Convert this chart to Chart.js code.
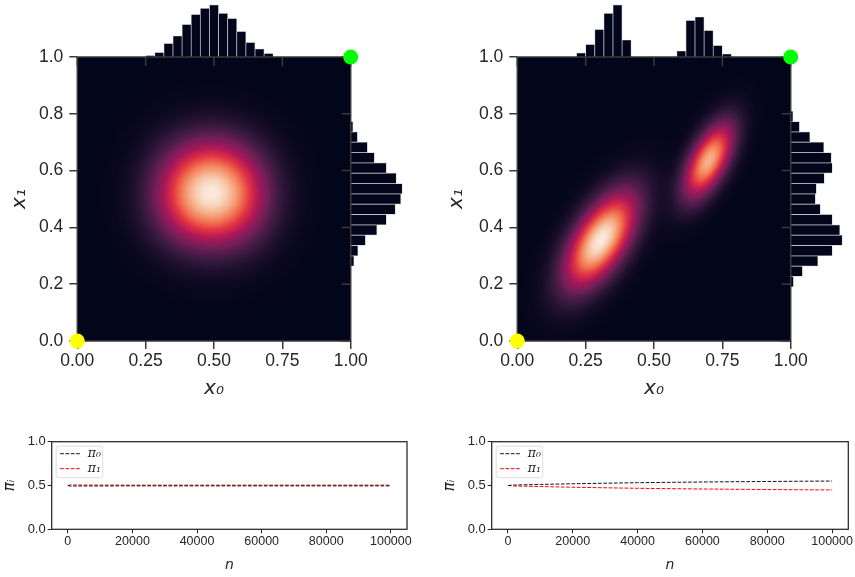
<!DOCTYPE html>
<html>
<head>
<meta charset="utf-8">
<script src="https://cdn.jsdelivr.net/npm/chart.js@4.4.1/dist/chart.umd.min.js"></script>
<style>
  body { margin: 0; background: #fff; }
  #fig { position: relative; width: 855px; height: 577px; overflow: hidden; background: #fff; }
  #fig canvas { position: absolute; }
</style>
</head>
<body>
<div id="fig">
  <canvas id="margTopL" width="430" height="57" style="left:0;top:0"></canvas>
  <canvas id="margSideL" width="60" height="341" style="left:350.7px;top:0"></canvas>
  <canvas id="margTopR" width="430" height="57" style="left:440px;top:0"></canvas>
  <canvas id="margSideR" width="60" height="341" style="left:790.7px;top:0"></canvas>
  <canvas id="jointL" width="430" height="410" style="left:0;top:0"></canvas>
  <canvas id="jointR" width="430" height="410" style="left:440px;top:0"></canvas>
  <canvas id="weightsL" width="420" height="157" style="left:0;top:420px"></canvas>
  <canvas id="weightsR" width="425" height="157" style="left:430px;top:420px"></canvas>
</div>
<script>
// ---- data ----
const heatXTicks = [0, 0.25, 0.5, 0.75, 1];
const heatYTicks = [0, 0.2, 0.4, 0.6, 0.8, 1];
const binWidth = 0.04;

// marginal histograms (bin start + counts per bin)
const leftX0Start = 0.20;
const leftX0Counts = [3, 9, 27, 42, 65, 85, 97, 104, 87, 77, 51, 29, 16, 7];
const leftX1Start = 0.24;
const leftX1Counts = [6, 14, 29, 52, 71, 89, 100, 103, 91, 71, 47, 33, 13, 4];
const rightX0Start = 0.16;
const rightX0Counts = [8, 25, 55, 87, 104, 34, 0, 0, 0, 0, 0, 12, 73, 80, 53, 23, 6];
const rightX1Start = 0.16;
const rightX1Counts = [5, 23, 54, 83, 103, 98, 83, 59, 49, 51, 67, 83, 81, 66, 38, 17, 4];

// density blobs: centre, spread, correlation, relative peak
const leftMeans = [[0.42, 0.47], [0.56, 0.465], [0.43, 0.575], [0.55, 0.57]];
const leftSds = [[0.11, 0.11], [0.11, 0.11], [0.11, 0.11], [0.11, 0.11]];
const leftCorr = [0, 0, 0, 0];
const leftPeaks = [1, 0.95, 0.92, 1];
const rightMeans = [[0.305, 0.355], [0.70, 0.635]];
const rightSds = [[0.09, 0.115], [0.063, 0.092]];
const rightCorr = [0.6, 0.6];
const rightPeaks = [1, 0.85];

// corner markers
const startPoint = [{x: 0, y: 0}];
const targetPoint = [{x: 1, y: 1}];

// mixture weights over iterations
const nSteps = [0, 1000, 2000, 5000, 10000, 20000, 40000, 60000, 80000, 100000];
const nTicks = [0, 20000, 40000, 60000, 80000, 100000];
const piTicks = [0, 0.5, 1];
const leftPi0 = [0.50, 0.492, 0.494, 0.495, 0.495, 0.496, 0.496, 0.496, 0.496, 0.496];
const leftPi1 = [0.50, 0.508, 0.506, 0.505, 0.505, 0.504, 0.504, 0.504, 0.504, 0.504];
const rightPi0 = [0.50, 0.503, 0.505, 0.508, 0.512, 0.520, 0.532, 0.540, 0.546, 0.551];
const rightPi1 = [0.50, 0.497, 0.495, 0.492, 0.488, 0.480, 0.468, 0.460, 0.454, 0.449];

// ---- styles ----
const ink = '#262626';
const spine = '#3a3a3a';
const barFill = '#03051a';
const barEdge = '#c9c9d2';
const sansFont = "'Liberation Sans', Arial, sans-serif";

const rocketStops = [
  [0, [3, 5, 26]], [1/7, [53, 25, 62]], [2/7, [112, 31, 87]], [3/7, [173, 23, 89]],
  [4/7, [225, 51, 66]], [5/7, [243, 118, 81]], [6/7, [246, 180, 143]], [1, [250, 235, 221]]
];

function rocket(t) {
  t = Math.max(0, Math.min(1, t));
  for (let k = 1; k < rocketStops.length; k++) {
    const [p1, c1] = rocketStops[k];
    if (t <= p1) {
      const [p0, c0] = rocketStops[k - 1];
      const f = (t - p0) / (p1 - p0);
      return c0.map((c, i) => c + (c1[i] - c) * f);
    }
  }
  return rocketStops[rocketStops.length - 1][1];
}

function blobs(means, sds, corr, peaks) {
  return means.map((m, i) => ({mx: m[0], my: m[1], sx: sds[i][0], sy: sds[i][1], r: corr[i], peak: peaks[i]}));
}

// paints the density image, the frame and the marginal ticks under the markers
const densityPlugin = {
  id: 'density',
  beforeDatasetsDraw(chart, args, opts) {
    const {ctx, chartArea: a, scales} = chart;
    const w = Math.round(a.right - a.left), h = Math.round(a.bottom - a.top);
    if (!chart.$densityImg) {
      const off = document.createElement('canvas');
      off.width = w; off.height = h;
      const octx = off.getContext('2d');
      const img = octx.createImageData(w, h);
      const vals = new Float32Array(w * h);
      let max = 0;
      for (let j = 0; j < h; j++) {
        const vy = scales.y.getValueForPixel(a.top + (j + 0.5) * (a.bottom - a.top) / h);
        for (let i = 0; i < w; i++) {
          const vx = scales.x.getValueForPixel(a.left + (i + 0.5) * (a.right - a.left) / w);
          let d = 0;
          opts.components.forEach(c => {
            const dx = (vx - c.mx) / c.sx, dy = (vy - c.my) / c.sy;
            const q = (dx * dx - 2 * c.r * dx * dy + dy * dy) / (1 - c.r * c.r);
            d += c.peak * Math.exp(-q / 2);
          });
          vals[j * w + i] = d;
          if (d > max) max = d;
        }
      }
      for (let k = 0; k < vals.length; k++) {
        const col = rocket(vals[k] / max);
        img.data[4 * k] = col[0];
        img.data[4 * k + 1] = col[1];
        img.data[4 * k + 2] = col[2];
        img.data[4 * k + 3] = 255;
      }
      octx.putImageData(img, 0, 0);
      chart.$densityImg = off;
    }
    ctx.drawImage(chart.$densityImg, a.left, a.top, a.right - a.left, a.bottom - a.top);

    ctx.save();
    ctx.strokeStyle = spine;
    ctx.lineWidth = 1.5;
    ctx.strokeRect(a.left, a.top, a.right - a.left, a.bottom - a.top);
    // ticks of the marginal axes reach down / left into the image
    ctx.beginPath();
    heatXTicks.forEach(v => {
      const px = scales.x.getPixelForValue(v);
      ctx.moveTo(px, a.top); ctx.lineTo(px, a.top + 9);
    });
    heatYTicks.forEach(v => {
      const py = scales.y.getPixelForValue(v);
      ctx.moveTo(a.right, py); ctx.lineTo(a.right - 9, py);
    });
    ctx.stroke();
    ctx.restore();
  }
};

function jointChart(id, comps, yTitlePad) {
  return new Chart(document.getElementById(id), {
    type: 'scatter',
    data: {
      datasets: [
        {data: startPoint, backgroundColor: '#ffff00', pointRadius: 7.5, borderWidth: 0, clip: false},
        {data: targetPoint, backgroundColor: '#00ff00', pointRadius: 7.5, borderWidth: 0, clip: false}
      ]
    },
    options: {
      animation: false,
      responsive: false,
      events: [],
      layout: {padding: {top: 57, right: 79.3, left: 0, bottom: 0}},
      plugins: {legend: {display: false}, tooltip: {enabled: false}, density: {components: comps}},
      scales: {
        x: {
          type: 'linear', min: 0, max: 1,
          afterFit: s => { s.height = 69; },
          afterBuildTicks: s => { s.ticks = heatXTicks.map(v => ({value: v})); },
          ticks: {callback: v => v.toFixed(2), color: ink, font: {family: sansFont, size: 17.5}, padding: 2, maxRotation: 0},
          grid: {drawOnChartArea: false, tickLength: 8, color: spine, lineWidth: 1.5},
          border: {display: false},
          title: {display: true, text: 'x₀', color: ink, font: {family: 'DejaVu Sans', size: 20, style: 'italic'}, padding: {top: 0, bottom: 9}}
        },
        y: {
          type: 'linear', min: 0, max: 1,
          afterFit: s => { s.width = 77.3; },
          afterBuildTicks: s => { s.ticks = heatYTicks.map(v => ({value: v})); },
          ticks: {callback: v => v.toFixed(1), color: ink, font: {family: sansFont, size: 17.5}, padding: 6},
          grid: {drawOnChartArea: false, tickLength: 8, color: spine, lineWidth: 1.5},
          border: {display: false},
          title: {display: true, text: 'x₁', color: ink, font: {family: 'DejaVu Sans', size: 20, style: 'italic'}, padding: {top: yTitlePad, bottom: 0}}
        }
      }
    },
    plugins: [densityPlugin]
  });
}

function histTop(id, start, counts) {
  const top = Math.max(...counts);
  return new Chart(document.getElementById(id), {
    type: 'bar',
    data: {
      datasets: [{
        data: counts.map((c, i) => ({x: start + (i + 0.5) * binWidth, y: c})),
        backgroundColor: barFill, borderColor: barEdge,
        borderWidth: {top: 0.7, left: 0.7, right: 0.7, bottom: 0}, borderSkipped: 'start',
        barPercentage: 1, categoryPercentage: 1
      }]
    },
    options: {
      animation: false, responsive: false, events: [],
      layout: {padding: {left: 77.3, right: 79.3, top: 0, bottom: 0}},
      plugins: {legend: {display: false}, tooltip: {enabled: false}},
      scales: {
        x: {type: 'linear', min: 0, max: 1, display: false},
        y: {min: 0, max: top * 1.095, display: false}
      }
    }
  });
}

function histSide(id, start, counts) {
  const top = Math.max(...counts);
  return new Chart(document.getElementById(id), {
    type: 'bar',
    data: {
      datasets: [{
        data: counts.map((c, i) => ({y: start + (i + 0.5) * binWidth, x: c})),
        backgroundColor: barFill, borderColor: barEdge,
        borderWidth: {top: 0.7, right: 0.7, bottom: 0.7, left: 0}, borderSkipped: 'start',
        barPercentage: 1, categoryPercentage: 1
      }]
    },
    options: {
      indexAxis: 'y',
      animation: false, responsive: false, events: [],
      layout: {padding: {left: 0, right: 5, top: 57, bottom: 0}},
      plugins: {legend: {display: false}, tooltip: {enabled: false}},
      scales: {
        y: {type: 'linear', min: 0, max: 1, display: false},
        x: {min: 0, max: top * 1.072, display: false}
      }
    }
  });
}

// frame and in-axes legend for the weight traces
const framePlugin = {
  id: 'frameLegend',
  afterDatasetsDraw(chart) {
    const {ctx, chartArea: a} = chart;
    ctx.save();
    ctx.strokeStyle = ink;
    ctx.lineWidth = 1.25;
    ctx.strokeRect(a.left, a.top, a.right - a.left, a.bottom - a.top);

    const bx = a.left + 4.5, by = a.top + 4.5, bw = 46.5, bh = 31.5;
    ctx.beginPath();
    ctx.roundRect(bx, by, bw, bh, 2.5);
    ctx.fillStyle = 'rgba(255,255,255,0.8)';
    ctx.fill();
    ctx.strokeStyle = '#d6d6d6';
    ctx.lineWidth = 0.8;
    ctx.stroke();
    chart.data.datasets.forEach((ds, i) => {
      const yy = by + 7.5 + i * 15;
      ctx.beginPath();
      ctx.setLineDash(ds.borderDash);
      ctx.strokeStyle = ds.borderColor;
      ctx.lineWidth = 1;
      ctx.moveTo(bx + 4, yy);
      ctx.lineTo(bx + 24, yy);
      ctx.stroke();
      ctx.setLineDash([]);
      ctx.fillStyle = ink;
      ctx.font = "italic 12.5px 'DejaVu Serif'";
      ctx.textBaseline = 'middle';
      ctx.fillText(ds.label, bx + 31.5, yy);
    });
    ctx.restore();
  }
};

function weightChart(id, pi0, pi1, yWidth, rightPad, yTitlePad) {
  return new Chart(document.getElementById(id), {
    type: 'line',
    data: {
      datasets: [
        {label: 'π₀', data: nSteps.map((n, i) => ({x: n, y: pi0[i]})), borderColor: '#111111',
          borderWidth: 1, borderDash: [3.7, 1.6], pointRadius: 0, fill: false},
        {label: 'π₁', data: nSteps.map((n, i) => ({x: n, y: pi1[i]})), borderColor: '#ff0000',
          borderWidth: 1, borderDash: [3.7, 1.6], pointRadius: 0, fill: false}
      ]
    },
    options: {
      animation: false, responsive: false, events: [],
      layout: {padding: {top: 21.7, right: rightPad, left: 0, bottom: 0}},
      plugins: {legend: {display: false}, tooltip: {enabled: false}},
      scales: {
        x: {
          type: 'linear', min: -5000, max: 105000,
          afterFit: s => { s.height = 47.7; },
          afterBuildTicks: s => { s.ticks = nTicks.map(v => ({value: v})); },
          ticks: {callback: v => String(v), color: ink, font: {family: sansFont, size: 12.5}, padding: 1, maxRotation: 0},
          grid: {drawOnChartArea: false, tickLength: 4, color: ink, lineWidth: 1},
          border: {display: false},
          title: {display: true, text: 'n', color: ink, font: {family: 'DejaVu Sans', size: 14, style: 'italic'}, padding: {top: 0, bottom: 3}}
        },
        y: {
          type: 'linear', min: 0, max: 1,
          afterFit: s => { s.width = yWidth; },
          afterBuildTicks: s => { s.ticks = piTicks.map(v => ({value: v})); },
          ticks: {callback: v => v.toFixed(1), color: ink, font: {family: sansFont, size: 13}, padding: 2},
          grid: {drawOnChartArea: false, tickLength: 4, color: ink, lineWidth: 1},
          border: {display: false},
          title: {display: true, text: 'πᵢ', color: ink, font: {family: 'DejaVu Sans', size: 15, style: 'italic'}, padding: {top: yTitlePad, bottom: 0}}
        }
      }
    },
    plugins: [framePlugin]
  });
}

histTop('margTopL', leftX0Start, leftX0Counts);
histSide('margSideL', leftX1Start, leftX1Counts);
histTop('margTopR', rightX0Start, rightX0Counts);
histSide('margSideR', rightX1Start, rightX1Counts);
jointChart('jointL', blobs(leftMeans, leftSds, leftCorr, leftPeaks), 8);
jointChart('jointR', blobs(rightMeans, rightSds, rightCorr, rightPeaks), 5);
weightChart('weightsL', leftPi0, leftPi1, 51.7, 13, 1);
weightChart('weightsR', rightPi0, rightPi1, 61.7, 6.7, 11);
</script>
</body>
</html>
